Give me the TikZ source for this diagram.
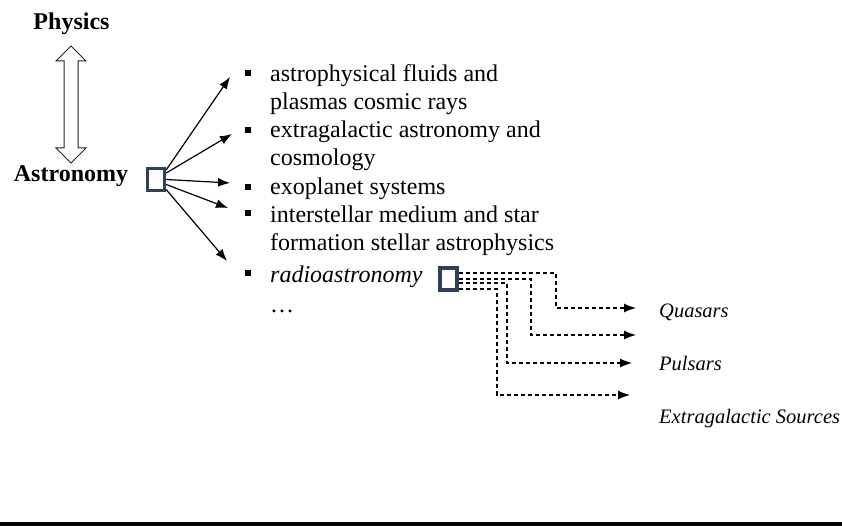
\documentclass[tikz,border=0pt]{standalone}
\usepackage{fontspec}
\setmainfont{Liberation Serif}
\usetikzlibrary{arrows.meta,calc,positioning}
\definecolor{hubnavy}{RGB}{46,64,92}

\begin{document}
\begin{tikzpicture}[
      x=1pt, y=-1pt,
      head/.style={font=\fontsize{24}{28}\selectfont\bfseries, inner sep=0pt, anchor=base},
      item/.style={font=\fontsize{24}{28}\selectfont, align=left, inner sep=0pt, anchor=base west},
      bul/.style={fill=black, minimum size=6.5pt, inner sep=0pt},
      hub/.style={draw=hubnavy, fill=white, line width=3.3pt, minimum width=17pt, minimum height=22pt, inner sep=0pt},
      src/.style={font=\fontsize{20.5}{25}\selectfont\itshape, inner sep=0pt, anchor=base west},
      link/.style={draw=black!85, fill=white, line width=1pt, line join=miter},
      arr/.style={-{Latex[length=12pt,width=9pt]}, line width=1.2pt},
      darr/.style={arr, dash pattern=on 4.5pt off 2.5pt}
    ]
      \useasboundingbox (0,0) rectangle (842,526);

      \node[head] (phys) at (71.5,30) {Physics};
      \node[head] (astro) at (71,182) {Astronomy};

      % hollow two-way arrow between the two fields
      \coordinate (ltop) at (71,46);
      \coordinate (lbot) at (71,163);
      \draw[link] (ltop) -- ++(15,15) -- ++(-8,0) -- ($(lbot)+(7,-15)$) -- ++(8,0)
        -- (lbot) -- ++(-15,-15) -- ++(8,0) -- ($(ltop)+(-7,15)$) -- ++(-8,0) -- cycle;

      \node[hub] (ahub) at (156,179.5) {};

      % topics
      \node[item] (t1) at (270,110) {astrophysical fluids and\\plasmas cosmic rays};
      \node[item] (t2) at (270,166) {extragalactic astronomy and\\cosmology};
      \node[item] (t3) at (270,195) {exoplanet systems};
      \node[item] (t4) at (270,251) {interstellar medium and star\\formation stellar astrophysics};
      \node[item, font=\fontsize{24}{28}\selectfont\itshape] (t5) at (270,283) {radioastronomy};
      \node[item] (more) at (270,312) {\ldots};

      \node[bul] (b1) at (248,73) {};
      \node[bul] (b2) at (248,130) {};
      \node[bul] (b3) at (248,187) {};
      \node[bul] (b4) at (248,213) {};
      \node[bul] (b5) at (248,273) {};

      \coordinate (e1) at (230,77);
      \coordinate (e2) at (232,134);
      \coordinate (e3) at (230,183);
      \coordinate (e4) at (228,208);
      \coordinate (e5) at (227,261);

      \draw[arr] ([yshift=9.5pt]ahub.east) -- (e1);
      \draw[arr] ([yshift=6.5pt]ahub.east) -- (e2);
      \draw[arr] (ahub.east) -- (e3);
      \draw[arr] ([yshift=-5pt]ahub.east) -- (e4);
      \draw[arr] ([yshift=-10pt]ahub.east) -- (e5);

      % radio sources
      \node[hub] (rhub) at (448.5,279) {};

      \coordinate (q1) at (636,308);
      \coordinate (q2) at (636,335);
      \coordinate (q3) at (632,363);
      \coordinate (q4) at (630,395);

      \draw[darr] ([yshift=6pt]rhub.east) -| ([xshift=-80pt]q1) -- (q1);
      \draw[darr] (rhub.east) -| ([xshift=-105pt]q2) -- (q2);
      \draw[darr] ([yshift=-4pt]rhub.east) -| ([xshift=-125pt]q3) -- (q3);
      \draw[darr] ([yshift=-10pt]rhub.east) -| ([xshift=-133pt]q4) -- (q4);

      \node[src] (quasar) at (659,317) {Quasars};
      \node[src] (pulsar) at (659,370) {Pulsars};
      \node[src] (extra) at (659,423) {Extragalactic Sources};

      \fill[black] (0,521.5) rectangle (842,526);
    \end{tikzpicture}
\end{document}
